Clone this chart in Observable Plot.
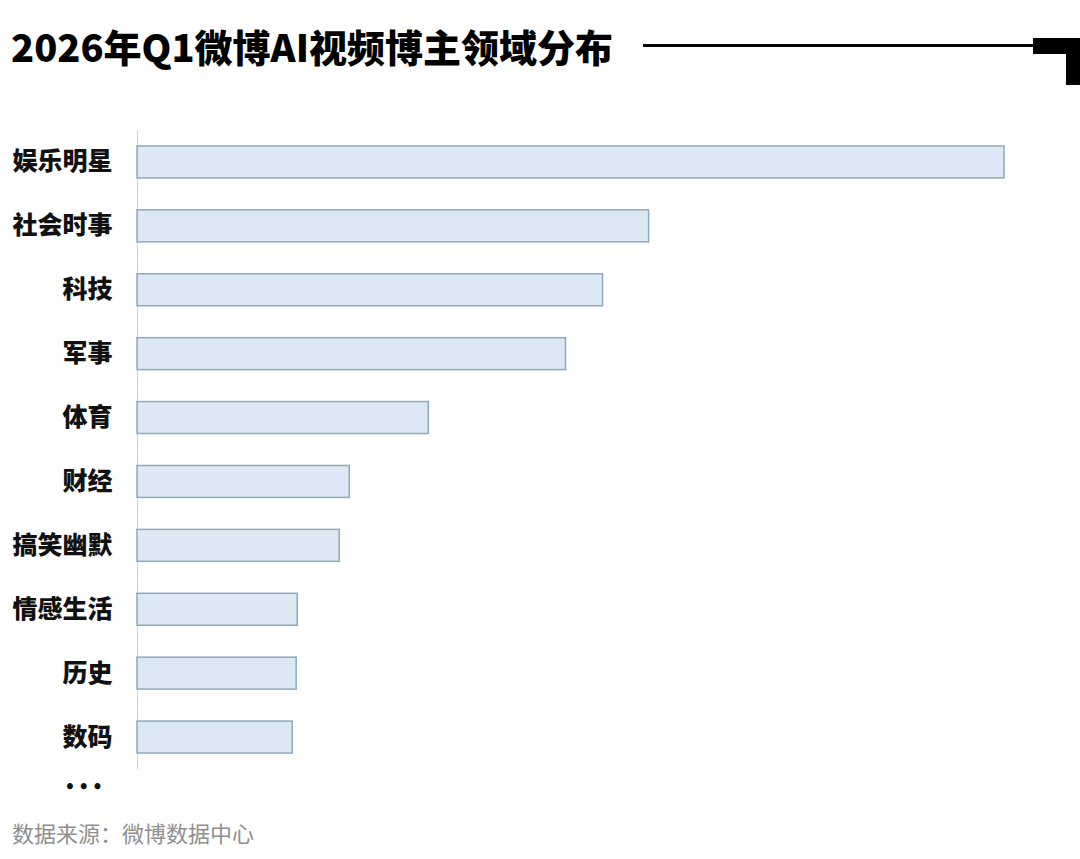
<!DOCTYPE html>
<html>
<head>
<meta charset="utf-8">
<script src="https://cdn.jsdelivr.net/npm/d3@7"></script>
<script src="https://cdn.jsdelivr.net/npm/@observablehq/plot@0.6"></script>
<style>
  html, body { margin: 0; padding: 0; background: #fff; }
  #wrap { position: relative; width: 1080px; height: 859px; overflow: hidden; font-family: "Noto Sans CJK SC", "Noto Sans", sans-serif; }
  #title { position: absolute; left: 11px; top: 21px; font-size: 38px; font-weight: 900; line-height: 50px; color: #000; white-space: nowrap; letter-spacing: 0px; }
  #hline { position: absolute; left: 643px; top: 44px; width: 395px; height: 3px; background: #000; }
  #block1 { position: absolute; left: 1033px; top: 38px; width: 47px; height: 16px; background: #000; }
  #block2 { position: absolute; left: 1066px; top: 38px; width: 14px; height: 47px; background: #000; }
  #chart { position: absolute; left: 0; top: 120px; }
  #more { position: absolute; left: 0px; width: 106px; text-align: right; top: 775px; font-family: "DejaVu Sans", sans-serif; font-size: 17px; font-weight: 700; color: #111; letter-spacing: 3px; line-height: 24px; }
  #source { position: absolute; left: 12px; top: 817px; font-size: 22px; color: #8f8f8f; line-height: 30px; white-space: nowrap; }
</style>
</head>
<body>
<div id="wrap">
  <div id="title">2026年Q1微博AI视频博主领域分布</div>
  <div id="hline"></div>
  <div id="block1"></div>
  <div id="block2"></div>
  <div id="chart"></div>
  <div id="more">•••</div>
  <div id="source">数据来源：微博数据中心</div>
</div>
<script>
const categories = ["娱乐明星", "社会时事", "科技", "军事", "体育", "财经", "搞笑幽默", "情感生活", "历史", "数码"];
const values = [866, 511, 465, 428, 291, 212, 202, 160, 159, 155];

const data = categories.map((c, i) => ({category: c, value: values[i]}));

const chart = Plot.plot({
  width: 1080,
  height: 649,
  marginTop: 10,
  marginBottom: 0,
  marginLeft: 137,
  marginRight: 76,
  x: {domain: [0, d3.max(values)], axis: null},
  y: {domain: categories, paddingInner: 0.5, paddingOuter: 0.25, round: false, label: null, tickSize: 0, tickPadding: 25},
  style: {fontFamily: "'Noto Sans CJK SC', sans-serif", fontSize: "25px", fontWeight: 800, color: "#111", background: "transparent"},
  marks: [
    Plot.ruleX([0], {stroke: "#d2d2d2", strokeWidth: 1}),
    Plot.barX(data, {x: "value", y: "category", fill: "#dde8f5", stroke: "#8ca9be", strokeWidth: 1.5})
  ]
});
document.getElementById("chart").appendChild(chart);
</script>
</body>
</html>
